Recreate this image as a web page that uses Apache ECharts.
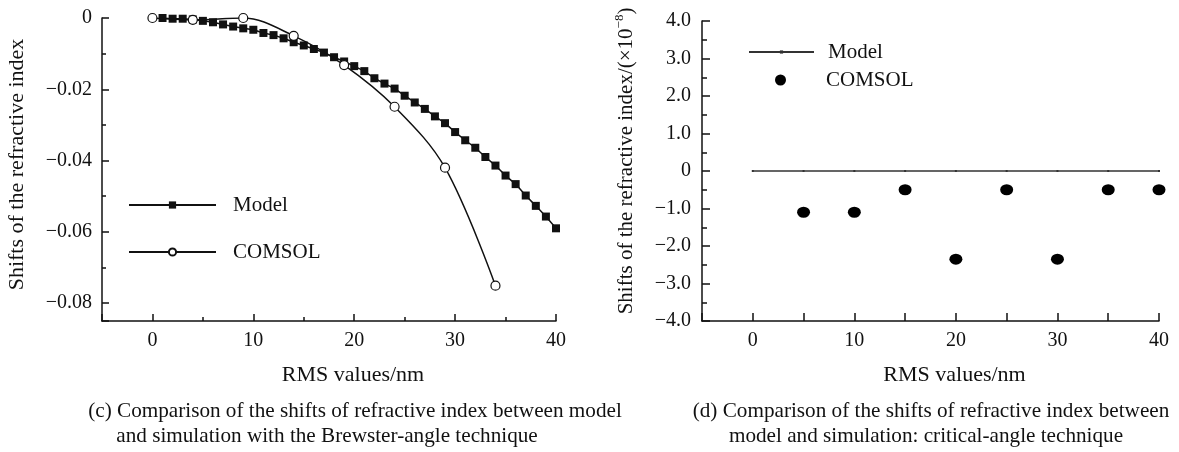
<!DOCTYPE html>
<html lang="en">
<head>
<meta charset="UTF-8">
<title>Shifts of refractive index: model vs COMSOL</title>
<script src="https://cdn.jsdelivr.net/npm/echarts@6.0.0/dist/echarts.min.js"></script>
<style>
  html, body { margin: 0; padding: 0; background: #fff; }
  #main { width: 1179px; height: 452px; }
</style>
</head>
<body>
<div id="main"></div>
<script>
// (c) Brewster-angle technique
var modelX = [1, 2, 3, 4, 5, 6, 7, 8, 9, 10, 11, 12, 13, 14, 15, 16, 17, 18, 19, 20,
              21, 22, 23, 24, 25, 26, 27, 28, 29, 30, 31, 32, 33, 34, 35, 36, 37, 38, 39, 40];
var modelY = [0, -0.0002, -0.0002, -0.0004, -0.0008, -0.0012, -0.0018, -0.0024, -0.0029, -0.0033,
              -0.0042, -0.0048, -0.0057, -0.0068, -0.0077, -0.0087, -0.0097, -0.011, -0.0122, -0.0135,
              -0.0149, -0.0169, -0.0184, -0.0198, -0.0218, -0.0237, -0.0255, -0.0276, -0.0295, -0.032,
              -0.0343, -0.0364, -0.039, -0.0414, -0.0442, -0.0466, -0.0498, -0.0527, -0.0557, -0.059];
var comsolX = [0, 4, 9, 14, 19, 24, 29, 34];
var comsolY = [0, -0.0005, 0, -0.005, -0.0132, -0.0249, -0.042, -0.0751];

// (d) critical-angle technique, in units of 1e-8
var critModelX = [0, 5, 10, 15, 20, 25, 30, 35, 40];
var critModelY = [0, 0, 0, 0, 0, 0, 0, 0, 0];
var critComsolX = [5, 10, 15, 20, 25, 30, 35, 40];
var critComsolY = [-1.1, -1.1, -0.5, -2.35, -0.5, -2.35, -0.5, -0.5];

// tick labels
var xLabels = [0, 10, 20, 30, 40];
var yLabelsC = [0, -0.02, -0.04, -0.06, -0.08];

var FONT = '"Liberation Serif", "Times New Roman", serif';
var INK = '#111';

function pairs(xs, ys) {
    return xs.map(function (x, i) { return [x, ys[i]]; });
}

function minusFmt(digits) {
    return function (v) {
        if (Math.abs(v) < 1e-12) return '0';
        return (v < 0 ? '\u2212' : '') + Math.abs(v).toFixed(digits);
    };
}

var chart = echarts.init(document.getElementById('main'));

var axisLine = { show: true, onZero: false, lineStyle: { color: INK, width: 1.5 } };
var labelStyle = { color: INK, fontFamily: FONT, fontSize: 20 };
var nameStyle = { color: INK, fontFamily: FONT, fontSize: 22 };
var legendText = { color: INK, fontFamily: FONT, fontSize: 21, lineHeight: 24 };

// invisible axis that only carries ticks (inverse lets the count start at the far end)
function tickAxis(grid, pos, min, max, interval, len, inverse) {
    return {
        gridIndex: grid, position: pos, type: 'value', min: min, max: max, interval: interval,
        inverse: !!inverse,
        axisLine: { show: false, onZero: false },
        axisTick: { show: true, inside: true, length: len, lineStyle: { color: INK, width: 1.5 } },
        axisLabel: { show: false },
        splitLine: { show: false }
    };
}

function caption(x, y, text) {
    return {
        type: 'text', x: x, y: y,
        style: { text: text, align: 'center', verticalAlign: 'middle', fontFamily: FONT, fontSize: 21.2, fill: INK }
    };
}

var option = {
    backgroundColor: '#fff',
    animation: false,
    grid: [
        { left: 102, top: 18, width: 454, height: 303 },
        { left: 702, top: 21, width: 457, height: 300 }
    ],
    xAxis: [
        {
            gridIndex: 0, position: 'bottom', type: 'value', min: -5, max: 40,
            axisLine: axisLine,
            axisTick: { show: false },
            axisLabel: Object.assign({ customValues: xLabels, margin: 10 }, labelStyle),
            splitLine: { show: false },
            name: 'RMS values/nm', nameLocation: 'middle', nameGap: 43,
            nameTextStyle: Object.assign({ padding: [0, 0, 0, 48] }, nameStyle)
        },
        // minor ticks every 5 nm, major every 10 nm (measured from 40 down)
        tickAxis(0, 'bottom', -5, 40, 5, 4),
        tickAxis(0, 'bottom', 0, 45, 10, 7, true),
        {
            gridIndex: 1, position: 'bottom', type: 'value', min: -5, max: 40, interval: 5,
            axisLine: axisLine,
            axisTick: { inside: true, length: 8, lineStyle: { color: INK, width: 1.5 } },
            axisLabel: Object.assign({ customValues: xLabels, margin: 10 }, labelStyle),
            splitLine: { show: false },
            name: 'RMS values/nm', nameLocation: 'middle', nameGap: 43,
            nameTextStyle: Object.assign({ padding: [0, 0, 0, 48] }, nameStyle)
        }
    ],
    yAxis: [
        {
            gridIndex: 0, position: 'left', type: 'value', min: -0.085, max: 0,
            axisLine: axisLine,
            axisTick: { show: false },
            axisLabel: Object.assign({ customValues: yLabelsC, margin: 10, formatter: minusFmt(2) }, labelStyle),
            splitLine: { show: false },
            name: 'Shifts of the refractive index', nameLocation: 'middle', nameGap: 74,
            nameTextStyle: Object.assign({ padding: [0, 0, 0, 10] }, nameStyle)
        },
        // ticks in units of 0.01, counted downward from 0
        tickAxis(0, 'left', 0, 8.5, 1, 4, true),
        tickAxis(0, 'left', 0, 8.5, 2, 7, true),
        {
            gridIndex: 1, position: 'left', type: 'value', min: -4, max: 4, interval: 1,
            axisLine: axisLine,
            axisTick: { inside: true, length: 8, lineStyle: { color: INK, width: 1.5 } },
            minorTick: { show: true, splitNumber: 2, length: 5, lineStyle: { color: INK, width: 1.5 } },
            axisLabel: Object.assign({ margin: 11, formatter: minusFmt(1) }, labelStyle),
            splitLine: { show: false },
            name: 'Shifts of the refractive index/(\u00d710{sup|\u22128})',
            nameLocation: 'middle', nameGap: 63,
            nameTextStyle: {
                color: INK, fontFamily: FONT, fontSize: 21,
                padding: [0, 0, 0, 20],
                rich: { sup: { fontFamily: FONT, fontSize: 13, color: INK, verticalAlign: 'top', lineHeight: 26 } }
            }
        }
    ],
    legend: [
        {
            data: ['Model', 'COMSOL'], orient: 'vertical', left: 128, top: 193, padding: 0,
            itemWidth: 87, itemHeight: 9, itemGap: 23,
            textStyle: Object.assign({ padding: [0, 0, 0, 12] }, legendText),
            selectedMode: false
        },
        {
            data: ['Model (d)'], left: 748, top: 40, padding: 0,
            itemWidth: 65, itemHeight: 4,
            formatter: function (n) { return n.replace(' (d)', ''); },
            textStyle: Object.assign({ padding: [0, 0, 0, 9] }, legendText),
            selectedMode: false
        },
        {
            data: ['COMSOL (d)'], left: 775, top: 68, padding: 0,
            itemWidth: 13, itemHeight: 11,
            formatter: function (n) { return n.replace(' (d)', ''); },
            textStyle: Object.assign({ padding: [0, 0, 0, 34] }, legendText),
            selectedMode: false
        }
    ],
    graphic: [
        caption(355, 411, '(c) Comparison of the shifts of refractive index between model'),
        caption(327, 436, 'and simulation with the Brewster-angle technique'),
        caption(931, 411, '(d) Comparison of the shifts of refractive index between'),
        caption(926, 436, 'model and simulation: critical-angle technique')
    ],
    series: [
        {
            name: 'Model', type: 'line', xAxisIndex: 0, yAxisIndex: 0,
            data: pairs(modelX, modelY),
            symbol: 'rect', symbolSize: 8, showAllSymbol: true,
            itemStyle: { color: INK },
            lineStyle: { color: INK, width: 1.5 },
            z: 2
        },
        {
            name: 'COMSOL', type: 'line', xAxisIndex: 0, yAxisIndex: 0,
            data: pairs(comsolX, comsolY),
            smooth: 0.35,
            symbol: 'circle', symbolSize: 9,
            itemStyle: { color: '#fff', borderColor: INK, borderWidth: 1.2 },
            lineStyle: { color: INK, width: 1.5 },
            z: 3
        },
        {
            name: 'Model (d)', type: 'line', xAxisIndex: 3, yAxisIndex: 3,
            data: pairs(critModelX, critModelY),
            symbol: 'rect', symbolSize: 2,
            itemStyle: { color: '#333' },
            lineStyle: { color: '#333', width: 1.5 }
        },
        {
            name: 'COMSOL (d)', type: 'scatter', xAxisIndex: 3, yAxisIndex: 3,
            data: pairs(critComsolX, critComsolY),
            symbol: 'circle', symbolSize: [13, 11],
            itemStyle: { color: '#000', opacity: 1 }
        }
    ]
};

chart.setOption(option);
</script>
</body>
</html>
